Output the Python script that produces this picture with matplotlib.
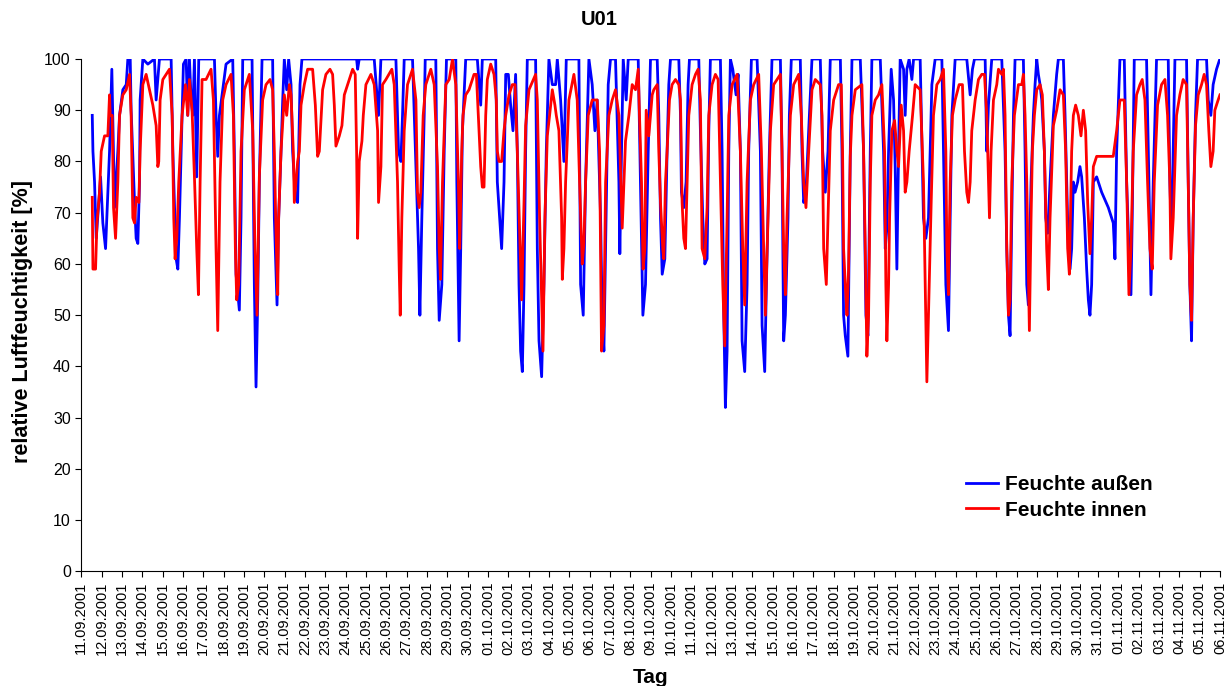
import matplotlib
matplotlib.use("Agg")
import matplotlib.pyplot as plt
import pandas as pd

plt.rcParams['font.family'] = ['Liberation Sans', 'DejaVu Sans']

# Messwerte: (Stunden seit 11.09.2001 00:00, rel. Feuchte %)
aussen = [
    (13.0, 89), (13.8, 82), (15.7, 76), (17.7, 65), (22.8, 77), (25.5, 68), (28.7, 63), (33.4, 82), (36.1, 98),
    (39.3, 71), (43.2, 82), (45.2, 89), (49.1, 94), (53.1, 95), (55.0, 100), (57.8, 100), (58.9, 90), (62.9, 72),
    (64.8, 65), (66.8, 64), (68.8, 76), (69.5, 92), (72.7, 100), (78.6, 99), (86.4, 100), (88.4, 92), (92.3, 100),
    (106.1, 100), (108.1, 82), (112.0, 61), (114.0, 59), (115.9, 69), (119.0, 89), (120.6, 99), (123.8, 100),
    (125.7, 89), (127.7, 100), (129.7, 92), (131.6, 89), (133.6, 100), (136.3, 77), (138.7, 100), (157.2, 100),
    (159.1, 89), (161.1, 81), (163.1, 89), (167.0, 94), (170.9, 99), (178.8, 100), (180.7, 82), (182.7, 58),
    (186.6, 51), (188.6, 69), (190.6, 100), (201.6, 100), (204.3, 56), (206.3, 36), (208.3, 53), (210.2, 76),
    (213.4, 100), (225.9, 100), (227.9, 69), (231.1, 52), (233.0, 69), (235.8, 82), (237.8, 92), (239.7, 100),
    (242.5, 94), (244.8, 100), (247.6, 95), (249.5, 82), (252.7, 73), (255.4, 72), (256.6, 82), (258.2, 95),
    (260.5, 100), (325.0, 100), (326.2, 98), (328.1, 100), (345.8, 100), (350.9, 89), (353.7, 100), (371.4, 100),
    (374.5, 82), (377.3, 80), (379.2, 89), (381.2, 100), (391.0, 100), (395.0, 79), (398.1, 63), (399.7, 50),
    (402.0, 69), (404.8, 89), (406.0, 100), (418.5, 100), (420.5, 63), (422.5, 49), (425.6, 56), (428.4, 82),
    (431.1, 100), (442.1, 100), (443.3, 76), (446.0, 45), (447.9, 63), (449.9, 86), (453.8, 100), (467.5, 100),
    (471.5, 91), (473.4, 100), (489.2, 100), (491.1, 76), (493.1, 71), (496.2, 63), (499.0, 76), (501.0, 97),
    (504.1, 97), (506.8, 91), (509.6, 86), (512.7, 97), (514.7, 82), (516.7, 56), (518.6, 43), (520.6, 39),
    (522.6, 56), (524.5, 82), (526.5, 100), (536.3, 100), (538.3, 63), (540.3, 45), (543.4, 38), (546.1, 56),
    (548.9, 82), (552.0, 100), (556.0, 95), (559.9, 95), (561.9, 100), (565.8, 92), (569.7, 80), (572.5, 100),
    (587.4, 100), (589.4, 56), (592.5, 50), (595.3, 76), (599.2, 100), (603.1, 95), (606.3, 86), (609.0, 92),
    (613.0, 69), (614.9, 50), (616.9, 43), (618.9, 63), (622.0, 95), (624.7, 100), (630.6, 100), (634.6, 76),
    (635.7, 62), (637.7, 82), (639.7, 100), (643.2, 92), (645.6, 100), (657.4, 100), (660.1, 76), (662.9, 50),
    (666.0, 56), (669.2, 82), (671.9, 100), (679.8, 100), (681.7, 89), (683.7, 69), (685.7, 58), (688.8, 61),
    (691.5, 82), (693.5, 95), (695.5, 100), (705.3, 100), (707.3, 89), (708.4, 74), (711.2, 71), (713.9, 76),
    (716.3, 95), (717.9, 100), (728.9, 100), (730.8, 86), (733.6, 69), (736.0, 60), (738.7, 61), (740.7, 86),
    (742.6, 100), (754.4, 100), (756.4, 82), (758.4, 50), (760.3, 32), (762.3, 43), (764.3, 82), (766.2, 100),
    (769.0, 98), (772.9, 93), (775.3, 97), (778.0, 82), (780.0, 45), (783.1, 39), (785.9, 56), (787.8, 82),
    (791.0, 100), (797.7, 100), (801.6, 82), (803.6, 48), (806.7, 39), (808.7, 56), (812.2, 82), (815.3, 100),
    (825.2, 100), (827.1, 82), (829.1, 45), (831.1, 50), (834.2, 69), (835.8, 89), (838.1, 100), (848.7, 100),
    (850.7, 82), (852.7, 72), (855.4, 74), (858.6, 86), (862.5, 100), (872.3, 100), (875.1, 82), (878.2, 74),
    (881.4, 82), (884.1, 100), (896.0, 100), (897.9, 82), (899.8, 50), (901.8, 46), (904.9, 42), (907.7, 82),
    (909.7, 100), (919.5, 100), (923.4, 82), (926.2, 50), (928.5, 46), (931.3, 82), (933.2, 100), (943.1, 100),
    (947.0, 82), (949.0, 63), (950.9, 67), (952.9, 82), (956.0, 98), (958.8, 92), (960.7, 79), (962.7, 59),
    (964.7, 82), (966.6, 100), (970.6, 98), (972.5, 89), (974.5, 98), (977.2, 100), (980.4, 96), (982.4, 100),
    (990.2, 100), (994.1, 69), (996.9, 65), (1000.0, 69), (1004.0, 95), (1007.9, 100), (1015.8, 100), (1017.7, 82),
    (1020.5, 56), (1023.6, 47), (1025.6, 69), (1027.6, 89), (1031.5, 100), (1045.2, 100), (1049.2, 93),
    (1051.9, 98), (1054.3, 100), (1066.9, 100), (1068.8, 82), (1070.8, 91), (1074.7, 100), (1086.5, 100),
    (1090.4, 82), (1092.4, 63), (1094.4, 50), (1096.3, 46), (1098.3, 69), (1100.3, 89), (1102.2, 100),
    (1112.0, 100), (1114.0, 82), (1116.0, 56), (1117.9, 52), (1121.1, 76), (1123.8, 89), (1125.8, 95),
    (1127.8, 100), (1129.7, 97), (1131.7, 95), (1133.7, 92), (1136.8, 82), (1138.4, 69), (1140.7, 66),
    (1143.5, 76), (1147.4, 89), (1151.3, 97), (1153.3, 100), (1159.2, 100), (1161.2, 89), (1163.1, 76),
    (1165.1, 63), (1167.1, 59), (1169.0, 63), (1171.0, 76), (1173.0, 74), (1176.1, 76), (1178.8, 79),
    (1180.8, 77), (1184.0, 69), (1186.7, 59), (1188.7, 53), (1190.6, 50), (1192.6, 56), (1194.6, 76),
    (1198.5, 77), (1204.4, 74), (1212.3, 71), (1218.1, 68), (1220.1, 61), (1222.1, 82), (1226.0, 100),
    (1231.1, 100), (1233.9, 76), (1236.6, 63), (1239.0, 54), (1240.5, 69), (1242.9, 100), (1257.4, 100),
    (1260.2, 76), (1262.6, 54), (1265.3, 76), (1269.2, 100), (1283.0, 100), (1284.9, 76), (1286.9, 65),
    (1288.9, 82), (1290.9, 100), (1304.6, 100), (1306.6, 76), (1308.5, 56), (1310.5, 45), (1312.5, 69),
    (1315.2, 89), (1317.6, 100), (1328.2, 100), (1330.2, 92), (1333.3, 89), (1336.0, 95), (1340.0, 98),
    (1343.9, 100),
]

innen = [
    (13.0, 73), (13.8, 59), (16.9, 59), (18.5, 68), (21.6, 74), (23.6, 82), (27.5, 85), (31.4, 85), (33.4, 93),
    (34.2, 89), (36.5, 89), (38.1, 71), (40.5, 65), (43.2, 76), (45.2, 89), (49.1, 93), (53.1, 94), (57.0, 97),
    (58.9, 89), (60.9, 69), (62.9, 68), (64.8, 73), (68.0, 72), (69.5, 82), (72.7, 95), (76.6, 97), (80.5, 94),
    (84.5, 91), (88.4, 87), (90.4, 79), (91.5, 80), (93.1, 92), (96.3, 96), (104.1, 98), (107.3, 89), (109.2, 69),
    (110.8, 61), (112.8, 65), (115.1, 76), (119.0, 89), (123.0, 95), (125.7, 89), (127.7, 96), (130.8, 90),
    (133.6, 77), (136.3, 63), (138.3, 54), (140.3, 76), (142.6, 96), (147.3, 96), (153.2, 98), (156.0, 92),
    (159.1, 63), (161.1, 47), (163.8, 76), (167.0, 92), (170.9, 95), (176.8, 97), (179.6, 89), (181.9, 63),
    (183.5, 53), (185.8, 56), (188.6, 82), (192.5, 94), (198.4, 97), (202.4, 86), (205.1, 63), (207.5, 50),
    (210.2, 77), (214.1, 92), (218.1, 95), (222.8, 96), (225.9, 94), (227.9, 82), (229.9, 66), (231.9, 54),
    (233.0, 69), (235.8, 82), (239.7, 93), (242.5, 89), (245.6, 95), (247.6, 93), (250.3, 82), (251.5, 72),
    (253.5, 76), (255.4, 80), (257.4, 82), (259.4, 91), (263.3, 95), (267.2, 98), (273.1, 98), (276.3, 91),
    (279.0, 81), (281.0, 82), (283.0, 88), (284.9, 94), (288.8, 97), (293.6, 98), (296.7, 97), (298.7, 91),
    (300.6, 83), (304.6, 85), (307.7, 87), (310.5, 93), (314.4, 95), (320.3, 98), (323.4, 97), (325.0, 82),
    (326.2, 65), (328.1, 80), (331.3, 84), (332.9, 89), (336.0, 95), (341.9, 97), (345.8, 95), (349.8, 86),
    (350.9, 72), (353.7, 79), (355.6, 95), (359.6, 96), (366.6, 98), (369.4, 95), (373.3, 76), (375.3, 59),
    (376.5, 50), (378.4, 69), (381.2, 86), (385.1, 95), (391.0, 98), (395.0, 92), (396.9, 74), (398.9, 71),
    (400.8, 74), (403.6, 89), (406.7, 95), (412.6, 98), (416.6, 95), (420.5, 79), (422.5, 63), (424.0, 57),
    (426.4, 76), (430.3, 95), (434.3, 96), (438.2, 100), (442.1, 95), (445.1, 76), (446.7, 63), (449.1, 82),
    (450.6, 89), (453.8, 93), (457.7, 94), (463.6, 97), (466.4, 97), (468.7, 89), (471.5, 79), (473.4, 75),
    (475.4, 75), (477.4, 89), (479.3, 96), (483.3, 99), (487.2, 97), (489.9, 92), (491.1, 82), (493.1, 80),
    (496.2, 80), (499.0, 86), (501.0, 89), (504.9, 93), (508.8, 95), (512.0, 95), (514.7, 82), (517.5, 66),
    (519.8, 53), (522.6, 72), (524.5, 87), (528.5, 94), (536.3, 97), (538.3, 92), (541.0, 69), (543.4, 53),
    (545.0, 43), (547.3, 69), (550.1, 85), (552.8, 89), (556.0, 94), (559.1, 91), (560.7, 89), (563.8, 86),
    (567.0, 69), (567.8, 57), (569.7, 63), (571.7, 76), (575.6, 92), (581.5, 97), (585.4, 92), (588.2, 76),
    (591.3, 60), (593.3, 64), (595.3, 76), (598.4, 89), (603.1, 92), (609.0, 92), (611.8, 82), (614.1, 43),
    (616.9, 48), (618.9, 76), (622.8, 89), (626.7, 92), (630.6, 94), (634.6, 89), (636.9, 76), (638.5, 67),
    (640.5, 76), (642.4, 84), (646.4, 89), (650.3, 95), (654.2, 94), (657.4, 98), (658.9, 89), (661.3, 76),
    (663.2, 59), (665.2, 63), (666.8, 90), (669.9, 85), (673.9, 93), (675.8, 94), (679.8, 95), (681.7, 82),
    (683.7, 72), (686.4, 63), (687.6, 61), (689.6, 76), (691.5, 82), (694.3, 92), (697.4, 95), (701.4, 96),
    (705.3, 95), (707.3, 92), (709.2, 72), (711.2, 65), (713.2, 63), (715.1, 76), (717.1, 89), (721.0, 95),
    (725.0, 97), (728.1, 98), (730.8, 92), (732.8, 63), (736.0, 61), (738.7, 71), (740.7, 89), (744.6, 95),
    (748.5, 97), (751.7, 96), (754.4, 76), (757.2, 56), (759.5, 44), (762.3, 69), (764.3, 89), (768.2, 95),
    (774.1, 97), (778.0, 82), (780.8, 63), (783.1, 52), (785.9, 76), (789.8, 92), (793.7, 95), (799.6, 97),
    (802.8, 82), (805.5, 63), (807.5, 50), (810.6, 69), (813.4, 86), (817.3, 95), (825.2, 97), (827.1, 82),
    (829.1, 63), (831.1, 54), (833.0, 69), (837.0, 89), (840.9, 95), (846.8, 97), (849.9, 89), (852.7, 76),
    (855.4, 71), (858.6, 82), (862.5, 94), (866.4, 96), (872.3, 95), (874.3, 89), (876.3, 63), (879.4, 56),
    (881.4, 69), (884.1, 86), (888.1, 92), (893.9, 95), (897.1, 95), (898.6, 82), (899.8, 63), (901.8, 56),
    (903.8, 50), (905.7, 59), (907.7, 81), (909.7, 89), (913.6, 94), (921.4, 95), (923.4, 82), (925.4, 63),
    (927.3, 42), (929.3, 50), (931.3, 76), (933.2, 89), (937.2, 92), (941.1, 93), (945.0, 95), (948.2, 82),
    (949.7, 56), (950.9, 45), (952.9, 56), (954.1, 69), (956.8, 86), (960.0, 88), (962.7, 82), (964.7, 79),
    (967.8, 91), (970.6, 86), (972.5, 74), (974.5, 76), (977.2, 82), (981.2, 89), (984.3, 95), (990.2, 94),
    (994.1, 76), (996.1, 56), (998.1, 37), (1000.0, 50), (1003.2, 72), (1005.9, 89), (1009.9, 95), (1013.8, 96),
    (1017.7, 98), (1020.5, 82), (1021.7, 63), (1023.6, 54), (1025.6, 76), (1028.3, 89), (1031.5, 92),
    (1036.2, 95), (1040.1, 95), (1042.5, 82), (1045.2, 74), (1047.2, 72), (1049.2, 76), (1051.1, 86),
    (1055.1, 92), (1059.0, 96), (1062.9, 97), (1066.1, 97), (1068.8, 89), (1070.8, 76), (1072.0, 69),
    (1073.9, 82), (1076.7, 92), (1080.6, 95), (1082.6, 98), (1086.5, 97), (1088.5, 98), (1090.4, 89),
    (1092.4, 63), (1094.4, 50), (1096.3, 53), (1098.3, 76), (1101.4, 89), (1106.2, 95), (1110.1, 95),
    (1112.0, 97), (1114.0, 89), (1116.0, 76), (1119.1, 47), (1121.1, 69), (1122.6, 82), (1125.0, 89),
    (1127.8, 94), (1131.7, 95), (1134.4, 93), (1136.8, 82), (1139.5, 63), (1141.5, 55), (1143.5, 69),
    (1147.4, 87), (1151.3, 90), (1155.3, 94), (1159.2, 93), (1161.9, 82), (1164.3, 63), (1166.3, 58),
    (1169.0, 82), (1171.0, 89), (1173.7, 91), (1176.9, 89), (1180.0, 85), (1182.8, 90), (1185.5, 86),
    (1187.9, 72), (1190.6, 62), (1192.6, 69), (1194.6, 79), (1198.5, 81), (1204.4, 81), (1212.3, 81),
    (1218.1, 81), (1222.1, 86), (1226.0, 92), (1231.1, 92), (1233.9, 76), (1236.6, 54), (1239.0, 63),
    (1241.7, 82), (1245.6, 93), (1249.6, 95), (1252.3, 96), (1255.5, 92), (1258.6, 76), (1261.4, 63),
    (1264.1, 59), (1266.5, 76), (1270.4, 91), (1275.1, 95), (1279.1, 96), (1282.2, 89), (1284.9, 76),
    (1286.1, 61), (1288.9, 69), (1292.8, 89), (1296.7, 93), (1300.6, 96), (1304.6, 95), (1306.6, 76),
    (1308.5, 56), (1310.5, 49), (1312.5, 69), (1315.2, 87), (1318.4, 93), (1322.3, 95), (1325.4, 97),
    (1328.2, 95), (1330.9, 86), (1333.3, 79), (1336.0, 82), (1338.0, 90), (1341.9, 92), (1344.0, 93),
]

tage = pd.date_range("2001-09-11", "2001-11-06", freq="D")
tag_labels = [d.strftime("%d.%m.%Y") for d in tage]

a_h, a_v = zip(*aussen)
i_h, i_v = zip(*innen)
a_d = [h / 24 for h in a_h]
i_d = [h / 24 for h in i_h]

fig = plt.figure(figsize=(12.31, 6.86), dpi=100)
ax = fig.add_axes([0.066, 0.167, 0.925, 0.747])

ax.plot(a_d, a_v, color="#0000ff", lw=2.0, label="Feuchte außen", solid_joinstyle="round")
ax.plot(i_d, i_v, color="#ff0000", lw=2.0, label="Feuchte innen", solid_joinstyle="round")

ax.set_xlim(0, len(tage) - 1)
ax.set_ylim(0, 100)
ax.set_xticks(range(len(tage)))
ax.set_xticklabels(tag_labels, rotation=90, fontsize=10.5)
ax.set_yticks(range(0, 101, 10))
ax.tick_params(axis="y", labelsize=11.5, length=4, direction="out")
ax.tick_params(axis="x", length=4, direction="out")

for s in ["top", "right"]:
    ax.spines[s].set_visible(False)

# titel zentriert ueber der ganzen grafik
fig.text(0.487, 0.972, "U01", fontsize=14.5, fontweight="bold", ha="center", va="center")
ax.set_ylabel("relative Luftfeuchtigkeit [%]", fontsize=15.5, fontweight="bold")
ax.yaxis.set_label_coords(-0.042, 0.487)
ax.set_xlabel("Tag", fontsize=15, fontweight="bold", labelpad=9)

leg = ax.legend(loc="upper left", bbox_to_anchor=(0.777, 0.188), frameon=False, borderpad=0,
                borderaxespad=0, prop={"size": 15, "weight": "bold"}, handlelength=1.55,
                handletextpad=0.3, labelspacing=0.32)

fig.savefig("out.png", dpi=100)
